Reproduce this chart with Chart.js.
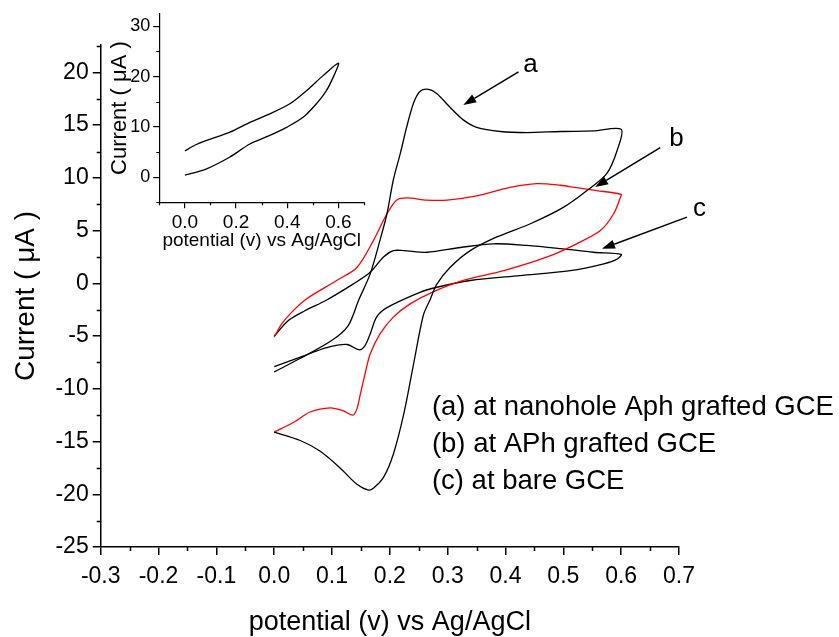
<!DOCTYPE html>
<html>
<head>
<meta charset="utf-8">
<script src="https://cdn.jsdelivr.net/npm/chart.js@4.4.1/dist/chart.umd.min.js"></script>
<style>
  html, body { margin: 0; padding: 0; background: #fff; }
  #wrap { position: relative; width: 839px; height: 637px; }
  #wrap canvas { position: absolute; left: 0; top: 0; }
</style>
</head>
<body>
<div id="wrap">
  <canvas id="mainChart" width="839" height="637"></canvas>
  <canvas id="insetChart" width="839" height="637"></canvas>
</div>
<script>
// (a) nanohole APh grafted GCE - black
const aPotential = [0.000, 0.042, 0.100, 0.128, 0.146, 0.166, 0.183, 0.195, 0.206, 0.218, 0.229, 0.241, 0.252, 0.267, 0.281, 0.304, 0.327, 0.350, 0.391, 0.437, 0.495, 0.552, 0.600,
  0.593, 0.575, 0.541, 0.500, 0.443, 0.385, 0.339, 0.304, 0.281, 0.270, 0.258, 0.241, 0.224, 0.206, 0.189, 0.172, 0.163, 0.143, 0.114, 0.079, 0.045, 0.000];
const aCurrent = [-8.4, -7.2, -5.4, -4.0, -1.6, 0.9, 4.1, 6.6, 9.8, 12.3, 14.8, 17.1, 18.2, 18.4, 18.0, 16.7, 15.5, 14.8, 14.4, 14.3, 14.4, 14.45, 14.6,
  12.6, 10.4, 8.8, 7.2, 5.65, 4.4, 3.1, 1.5, -0.1, -1.5, -3.0, -7.65, -12.4, -16.2, -18.4, -19.4, -19.6, -19.05, -17.5, -15.9, -14.9, -14.1];

// (b) APh grafted GCE - red
const bPotential = [0.000, 0.013, 0.030, 0.055, 0.108, 0.143, 0.172, 0.195, 0.212, 0.229, 0.264, 0.299, 0.350, 0.408, 0.454, 0.495, 0.523, 0.558, 0.600,
  0.599, 0.587, 0.564, 0.523, 0.472, 0.397, 0.327, 0.273, 0.235, 0.206, 0.183, 0.166, 0.157, 0.149, 0.143, 0.136, 0.120, 0.097, 0.062, 0.033, 0.000];
const bCurrent = [-5.1, -3.85, -2.75, -1.5, 0.27, 1.5, 4.1, 6.6, 7.9, 8.1, 7.9, 7.9, 8.3, 9.1, 9.45, 9.3, 9.07, 8.8, 8.44,
  8.2, 6.6, 5.0, 3.75, 2.5, 1.2, 0.27, -0.85, -1.95, -3.2, -4.8, -6.7, -8.6, -10.5, -11.9, -12.5, -12.1, -11.8, -12.2, -13.2, -14.1];

// (c) bare GCE - black
const cPotential = [0.000, 0.025, 0.053, 0.090, 0.137, 0.166, 0.189, 0.206, 0.224, 0.264, 0.322, 0.379, 0.437, 0.495, 0.552, 0.600,
  0.593, 0.570, 0.512, 0.425, 0.339, 0.281, 0.252, 0.195, 0.177, 0.166, 0.157, 0.147, 0.126, 0.091, 0.050, 0.000];
const cCurrent = [-5.0, -3.5, -2.6, -1.6, -0.05, 1.05, 2.5, 3.1, 3.1, 2.95, 3.4, 3.75, 3.6, 3.3, 2.95, 2.75,
  2.3, 1.85, 1.2, 0.74, 0.27, -0.37, -0.85, -2.3, -3.2, -4.8, -5.9, -6.3, -5.8, -6.1, -6.9, -7.9];

// inset curve
const insetPotential = [0.000, 0.085, 0.176, 0.254, 0.332, 0.397, 0.462, 0.514, 0.553, 0.586, 0.600, 0.540, 0.475, 0.410, 0.332, 0.254, 0.176, 0.085, 0.033, 0.000];
const insetCurrent = [0.4, 1.66, 4.0, 6.6, 8.3, 9.9, 11.9, 14.6, 17.2, 20.6, 22.7, 20.2, 17.2, 14.6, 12.6, 10.9, 8.97, 7.3, 6.2, 5.2];
const insetXTicks = [0.0, 0.2, 0.4, 0.6];

const legendLines = ['(a) at nanohole Aph grafted GCE', '(b) at APh grafted GCE', '(c) at bare GCE'];
const curveLetters = ['a', 'b', 'c'];

const FONT = 'Liberation Sans, Arial, sans-serif';
Chart.defaults.font.family = FONT;
Chart.defaults.color = '#000';

function toPoints(xs, ys) {
  return xs.map((x, i) => ({ x: x, y: ys[i] }));
}
function fmt(v) {
  return (Math.abs(v) < 1e-9 ? 0 : v).toFixed(1);
}

// minor tick values halfway between (and beyond) the major ticks
function minorValues(scale) {
  const t = scale.ticks.map(k => k.value);
  const out = [];
  if (t.length < 2) return out;
  const step = t[1] - t[0];
  for (let v = t[0] - step / 2; v >= scale.min - 1e-9; v -= step) out.push(v);
  for (let i = 0; i < t.length - 1; i++) out.push((t[i] + t[i + 1]) / 2);
  for (let v = t[t.length - 1] + step / 2; v <= scale.max + 1e-9; v += step) out.push(v);
  return out;
}

const minorTicks = {
  id: 'minorTicks',
  afterDraw(chart, args, opts) {
    const ctx = chart.ctx;
    const xs = chart.scales.x, ys = chart.scales.y;
    ctx.save();
    ctx.strokeStyle = '#000';
    ctx.lineWidth = opts.width;
    ctx.beginPath();
    minorValues(xs).forEach(v => {
      const p = Math.round(xs.getPixelForValue(v)) + 0.5;
      ctx.moveTo(p, xs.top);
      ctx.lineTo(p, xs.top + opts.length);
    });
    minorValues(ys).forEach(v => {
      const p = Math.round(ys.getPixelForValue(v)) + 0.5;
      ctx.moveTo(ys.right, p);
      ctx.lineTo(ys.right - opts.length, p);
    });
    ctx.stroke();
    ctx.restore();
  }
};

// curve letters with arrows, and the text key
const curveTags = {
  id: 'curveTags',
  afterDraw(chart, args, opts) {
    const ctx = chart.ctx;
    const xs = chart.scales.x, ys = chart.scales.y;
    const px = v => xs.getPixelForValue(v), py = v => ys.getPixelForValue(v);
    ctx.save();
    ctx.fillStyle = '#000';
    ctx.strokeStyle = '#000';
    ctx.lineWidth = 1.5;
    ctx.font = '26px ' + FONT;
    ctx.textAlign = 'center';
    ctx.textBaseline = 'middle';
    opts.tags.forEach((t, i) => {
      ctx.fillText(curveLetters[i], px(t.text[0]), py(t.text[1]));
      const x1 = px(t.from[0]), y1 = py(t.from[1]);
      const x2 = px(t.to[0]), y2 = py(t.to[1]);
      const ang = Math.atan2(y2 - y1, x2 - x1);
      const L = 13, W = 4.5;
      const bx = x2 - L * Math.cos(ang), by = y2 - L * Math.sin(ang);
      ctx.beginPath();
      ctx.moveTo(x1, y1);
      ctx.lineTo(bx, by);
      ctx.stroke();
      ctx.beginPath();
      ctx.moveTo(x2, y2);
      ctx.lineTo(bx + W * Math.sin(ang), by - W * Math.cos(ang));
      ctx.lineTo(bx - W * Math.sin(ang), by + W * Math.cos(ang));
      ctx.closePath();
      ctx.fill();
    });
    ctx.font = '27.5px ' + FONT;
    ctx.textAlign = 'left';
    legendLines.forEach((s, i) => {
      ctx.fillText(s, px(opts.keyX), py(opts.keyY[i]));
    });
    ctx.restore();
  }
};

const lineStyle = { showLine: true, pointRadius: 0, borderWidth: 1.3, tension: 0.3, fill: false };

new Chart(document.getElementById('mainChart').getContext('2d'), {
  type: 'scatter',
  data: {
    datasets: [
      Object.assign({ label: 'a', data: toPoints(aPotential, aCurrent), borderColor: '#000000' }, lineStyle),
      Object.assign({ label: 'b', data: toPoints(bPotential, bCurrent), borderColor: '#ff0000' }, lineStyle),
      Object.assign({ label: 'c', data: toPoints(cPotential, cCurrent), borderColor: '#000000' }, lineStyle)
    ]
  },
  options: {
    responsive: false,
    animation: false,
    events: [],
    layout: { padding: { top: 45, right: 160, left: 0, bottom: 0 } },
    plugins: {
      legend: { display: false },
      tooltip: { enabled: false },
      minorTicks: { length: 4, width: 1.5 },
      curveTags: {
        tags: [
          { text: [0.443, 20.69], from: [0.4225, 20.05], to: [0.327, 16.9] },
          { text: [0.6955, 13.73], from: [0.6676, 12.87], to: [0.555, 9.13] },
          { text: [0.7356, 7.08], from: [0.7138, 6.28], to: [0.5668, 3.28] }
        ],
        keyX: 0.2727,
        keyY: [-11.8, -15.27, -18.74]
      }
    },
    scales: {
      x: {
        type: 'linear', min: -0.3, max: 0.7,
        afterFit: s => { s.height = 90; },
        border: { display: true, color: '#000', width: 1.5 },
        grid: { display: true, drawOnChartArea: false, drawTicks: true, tickLength: 8, color: '#000', lineWidth: 1.5 },
        ticks: { stepSize: 0.1, includeBounds: false, autoSkip: false, maxRotation: 0, padding: 8,
          font: { size: 23 }, callback: v => fmt(v) },
        title: { display: true, text: 'potential (v) vs Ag/AgCl', font: { size: 27 }, padding: { top: 0, bottom: -2 } }
      },
      y: {
        type: 'linear', min: -25, max: 22.6,
        afterFit: s => { s.width = 100.7; },
        border: { display: true, color: '#000', width: 1.5 },
        grid: { display: true, drawOnChartArea: false, drawTicks: true, tickLength: 8, color: '#000', lineWidth: 1.5 },
        ticks: { stepSize: 5, includeBounds: false, autoSkip: false, padding: 4, font: { size: 23 } },
        title: { display: true, text: 'Current ( μA )', font: { size: 28 }, padding: { top: 9, bottom: 0 } }
      }
    }
  },
  plugins: [minorTicks, curveTags]
});

new Chart(document.getElementById('insetChart').getContext('2d'), {
  type: 'scatter',
  data: {
    datasets: [
      Object.assign({ label: 'inset', data: toPoints(insetPotential, insetCurrent), borderColor: '#000000' }, lineStyle)
    ]
  },
  options: {
    responsive: false,
    animation: false,
    events: [],
    layout: { padding: { top: 13.3, right: 475, left: 99.3, bottom: 384.7 } },
    plugins: {
      legend: { display: false },
      tooltip: { enabled: false },
      minorTicks: { length: 3, width: 1.2 }
    },
    scales: {
      x: {
        type: 'linear', min: -0.1, max: 0.7,
        afterBuildTicks: s => { s.ticks = insetXTicks.map(v => ({ value: v })); },
        afterFit: s => { s.height = 50; },
        border: { display: true, color: '#000', width: 1.2 },
        grid: { display: true, drawOnChartArea: false, drawTicks: true, tickLength: 6, color: '#000', lineWidth: 1.2 },
        ticks: { autoSkip: false, maxRotation: 0, padding: 3, font: { size: 19 }, callback: v => fmt(v) },
        title: { display: true, text: 'potential (v) vs Ag/AgCl', font: { size: 19 }, padding: { top: 0, bottom: 0 } }
      },
      y: {
        type: 'linear', min: -5, max: 32.5,
        afterFit: s => { s.width = 60; },
        border: { display: true, color: '#000', width: 1.2 },
        grid: { display: true, drawOnChartArea: false, drawTicks: true, tickLength: 6, color: '#000', lineWidth: 1.2 },
        ticks: { stepSize: 10, includeBounds: false, autoSkip: false, padding: 3, font: { size: 18 } },
        title: { display: true, text: 'Current ( μA )', font: { size: 22 }, padding: { top: 7, bottom: 0 } }
      }
    }
  },
  plugins: [minorTicks]
});
</script>
</body>
</html>
